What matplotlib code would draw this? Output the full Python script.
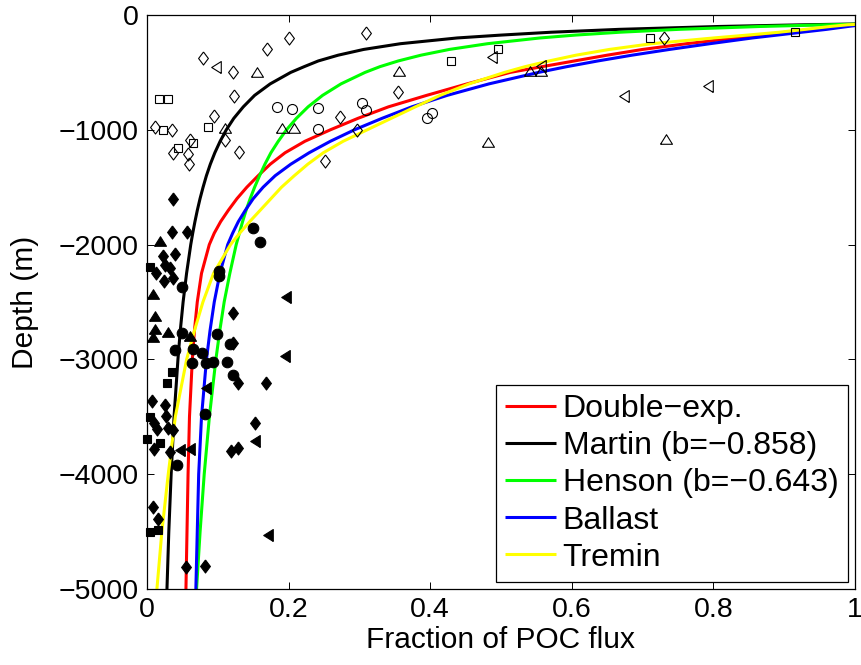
import matplotlib
matplotlib.use("Agg")
import matplotlib.pyplot as plt
import numpy as np

plt.rcParams['font.family'] = ['Liberation Sans', 'DejaVu Sans']

# ---- model curves (fraction of POC flux vs depth) ----
depth_grid = [75, 85, 100, 125, 150, 175, 200, 250, 300, 350, 400, 450, 500,
              600, 700, 800, 900, 1000, 1100, 1200, 1300, 1400, 1500, 1600,
              1700, 1800, 1900, 2000, 2250, 2500, 2750, 3000, 3500, 4000,
              4500, 5000]
frac_double_exp = [1.015, 1.0, 0.978, 0.94, 0.902, 0.867, 0.832, 0.762, 0.70,
                   0.65, 0.604, 0.558, 0.513, 0.452, 0.395, 0.341, 0.298,
                   0.259, 0.223, 0.195, 0.174, 0.157, 0.141, 0.127, 0.115,
                   0.104, 0.095, 0.088, 0.077, 0.071, 0.067, 0.064, 0.060,
                   0.058, 0.0565, 0.055]
frac_martin = [1.034, 0.929, 0.808, 0.667, 0.571, 0.500, 0.438, 0.358, 0.306,
               0.270, 0.242, 0.222, 0.203, 0.174, 0.152, 0.136, 0.1226, 0.112,
               0.1033, 0.0958, 0.0894, 0.0839, 0.0792, 0.0749, 0.0711, 0.0677,
               0.0646, 0.0618, 0.0559, 0.0510, 0.0470, 0.0437, 0.0382, 0.0341,
               0.0308, 0.0282]
frac_henson = [1.04, 0.962, 0.866, 0.751, 0.668, 0.605, 0.555, 0.481, 0.427,
               0.387, 0.355, 0.329, 0.308, 0.274, 0.248, 0.2275, 0.211, 0.197,
               0.1854, 0.175, 0.1665, 0.159, 0.152, 0.1457, 0.140, 0.135,
               0.1305, 0.126, 0.117, 0.109, 0.1028, 0.0973, 0.0881, 0.0808,
               0.0750, 0.0700]
frac_ballast = [1.03, 1.01, 0.99, 0.96, 0.925, 0.89, 0.855, 0.795, 0.738,
                0.685, 0.637, 0.593, 0.553, 0.483, 0.424, 0.374, 0.332, 0.293,
                0.259, 0.229, 0.203, 0.181, 0.164, 0.150, 0.139, 0.129, 0.121,
                0.114, 0.103, 0.095, 0.089, 0.084, 0.077, 0.073, 0.071, 0.069]
frac_tremin = [1.03, 0.99, 0.965, 0.93, 0.893, 0.848, 0.80, 0.713, 0.653,
               0.606, 0.568, 0.534, 0.505, 0.455, 0.414, 0.379, 0.345, 0.311,
               0.277, 0.249, 0.227, 0.208, 0.190, 0.175, 0.160, 0.145, 0.131,
               0.118, 0.094, 0.079, 0.067, 0.056, 0.040, 0.030, 0.021, 0.014]

curve_labels = ['Double\u2212exp.', 'Martin (b=\u22120.858)',
                'Henson (b=\u22120.643)', 'Ballast', 'Tremin']

# ---- observations: open markers (upper ocean) ----
open_diamond_x = [0.200, 0.170, 0.079, 0.122, 0.123, 0.095, 0.012, 0.035, 0.061,
                  0.110, 0.037, 0.058, 0.059, 0.130, 0.251, 0.273, 0.309, 0.354,
                  0.297, 0.730]
open_diamond_d = [203, 299, 377, 499, 705, 880, 979, 1002, 1089, 1089, 1205,
                  1211, 1298, 1191, 1269, 891, 154, 668, 1002, 203]
open_square_x = [0.017, 0.029, 0.086, 0.023, 0.065, 0.044, 0.429, 0.496, 0.710,
                 0.915]
open_square_d = [732, 735, 979, 1002, 1112, 1161, 401, 299, 203, 151]
open_tri_x = [0.156, 0.110, 0.190, 0.207, 0.356, 0.541, 0.557, 0.482, 0.733]
open_tri_d = [494, 988, 988, 988, 488, 488, 488, 1103, 1080]
open_ltri_x = [0.098, 0.487, 0.556, 0.793, 0.674]
open_ltri_d = [456, 363, 444, 618, 703]
open_circle_x = [0.184, 0.205, 0.242, 0.242, 0.304, 0.310, 0.402, 0.396]
open_circle_d = [804, 822, 807, 996, 764, 828, 856, 900]

# ---- observations: filled markers (deep ocean) ----
fill_diamond_x = [0.037, 0.035, 0.056, 0.040, 0.023, 0.032, 0.025, 0.013, 0.024,
                  0.037, 0.122, 0.122, 0.129, 0.168, 0.0075, 0.025, 0.027,
                  0.010, 0.014, 0.030, 0.037, 0.153, 0.010, 0.033, 0.118,
                  0.129, 0.008, 0.016, 0.055, 0.082]
fill_diamond_d = [1603, 1892, 1892, 2085, 2100, 2200, 2180, 2245, 2320, 2290,
                  2598, 2860, 3203, 3203, 3360, 3397, 3493, 3557, 3609, 3600,
                  3615, 3557, 3783, 3804, 3798, 3769, 4283, 4393, 4806, 4797]
fill_circle_x = [0.150, 0.160, 0.102, 0.102, 0.049, 0.049, 0.099, 0.040, 0.065,
                 0.077, 0.117, 0.063, 0.084, 0.093, 0.113, 0.122, 0.082, 0.043]
fill_circle_d = [1853, 1975, 2227, 2274, 2366, 2767, 2779, 2918, 2912, 2942,
                 2866, 3029, 3029, 3020, 3020, 3136, 3476, 3920]
fill_square_x = [0.004, 0.036, 0.028, 0.004, 0.000, 0.018, 0.004, 0.016]
fill_square_d = [2195, 3107, 3203, 3504, 3696, 3731, 4500, 4486]
fill_tri_x = [0.019, 0.009, 0.012, 0.011, 0.009, 0.030, 0.061]
fill_tri_d = [1970, 2430, 2622, 2735, 2802, 2758, 2793]
fill_ltri_x = [0.197, 0.195, 0.084, 0.153, 0.047, 0.061, 0.171]
fill_ltri_d = [2454, 2968, 3250, 3711, 3789, 3783, 4530]

x_ticks = [0, 0.2, 0.4, 0.6, 0.8, 1]
x_tick_labels = ['0', '0.2', '0.4', '0.6', '0.8', '1']
y_ticks = [-5000, -4000, -3000, -2000, -1000, 0]
y_tick_labels = ['\u22125000', '\u22124000', '\u22123000', '\u22122000',
                 '\u22121000', '0']

# ---- figure ----
fig = plt.figure(figsize=(8.61, 6.65), dpi=100)
ax = fig.add_axes([147 / 861, 1 - 589 / 665, 708 / 861, 574 / 665])

neg = lambda v: -np.asarray(v, dtype=float)
curves = [(frac_double_exp, (1, 0, 0)), (frac_martin, (0, 0, 0)),
          (frac_henson, (0, 1, 0)), (frac_ballast, (0, 0, 1)),
          (frac_tremin, (1, 1, 0))]
handles = []
for (vals, col), lab in zip(curves, curve_labels):
    h, = ax.plot(vals, neg(depth_grid), color=col, lw=2.2, label=lab,
                 solid_capstyle='butt', solid_joinstyle='round', zorder=2)
    handles.append(h)

diamond = [(0, 1), (0.75, 0), (0, -1), (-0.75, 0), (0, 1)]
tri_up = [(-1, -0.8), (1, -0.8), (0, 0.8), (-1, -0.8)]
tri_left = [(0.8, -1), (0.8, 1), (-0.8, 0), (0.8, -1)]

open_sets = [(open_diamond_x, open_diamond_d, diamond, 9.4),
             (open_square_x, open_square_d, 's', 5.8),
             (open_tri_x, open_tri_d, tri_up, 8.6),
             (open_ltri_x, open_ltri_d, tri_left, 8.6),
             (open_circle_x, open_circle_d, 'o', 7.2)]
for xs, ds, m, ms in open_sets:
    ax.plot(xs, neg(ds), ls='none', marker=m, ms=ms, mfc='none', mec='k',
            mew=0.8, zorder=3)

fill_sets = [(fill_diamond_x, fill_diamond_d, diamond, 9.4),
             (fill_square_x, fill_square_d, 's', 5.8),
             (fill_tri_x, fill_tri_d, tri_up, 8.6),
             (fill_ltri_x, fill_ltri_d, tri_left, 8.6),
             (fill_circle_x, fill_circle_d, 'o', 7.6)]
for xs, ds, m, ms in fill_sets:
    ax.plot(xs, neg(ds), ls='none', marker=m, ms=ms, mfc='k', mec='k',
            mew=0.8, zorder=3, clip_on=False)

ax.set_xlim(0, 1)
ax.set_ylim(-5000, 0)
ax.set_xticks(x_ticks)
ax.set_xticklabels(x_tick_labels)
ax.set_yticks(y_ticks)
ax.set_yticklabels(y_tick_labels)
ax.tick_params(direction='in', length=5, width=0.7, top=True, right=True,
               labelsize=20.5, pad=6)
for s in ax.spines.values():
    s.set_linewidth(0.9)
ax.set_xlabel('Fraction of POC flux', fontsize=21.5)
ax.set_ylabel('Depth (m)', fontsize=21.5)
ax.xaxis.set_label_coords(0.5, -0.064)
ax.yaxis.set_label_coords(-0.153, 0.5)

leg = ax.legend(handles=handles, loc='lower right',
                bbox_to_anchor=(0.99, 0.012), fontsize=23, frameon=True,
                fancybox=False, framealpha=1, edgecolor='k',
                handlelength=1.57, handletextpad=0.22, borderpad=0.3,
                labelspacing=0.22, borderaxespad=0)
leg.get_frame().set_linewidth(0.9)
for lh in leg.get_lines():
    lh.set_linewidth(2.2)
leg.set_zorder(5)

fig.savefig('out.png', dpi=100)
